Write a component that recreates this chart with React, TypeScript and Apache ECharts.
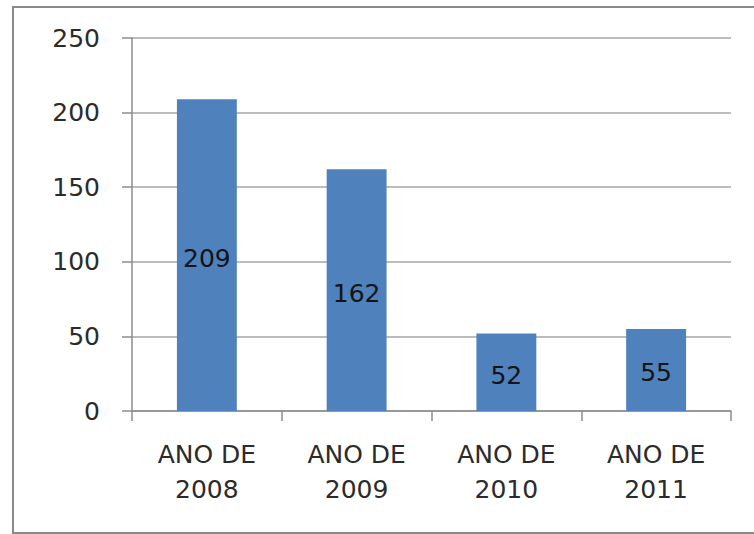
import React, { useEffect, useRef } from "react";
import * as echarts from "echarts";

const categories = ["ANO DE\n2008", "ANO DE\n2009", "ANO DE\n2010", "ANO DE\n2011"];
const values = [209, 162, 52, 55];
const yTicks = { min: 0, max: 250, interval: 50 };

export default function App() {
  const ref = useRef<HTMLDivElement>(null);
  useEffect(() => {
    if (!ref.current) return;
    const chart = echarts.init(ref.current, null, { renderer: "svg" });
    chart.setOption({
      animation: false,
      backgroundColor: "#ffffff",
      textStyle: { fontFamily: "DejaVu Sans" },
      graphic: [
        {
          type: "rect",
          shape: { x: 13, y: 7, width: 760, height: 526 },
          style: { fill: "none", stroke: "#8a8a8a", lineWidth: 2 },
          silent: true,
        },
      ],
      grid: { left: 132, right: 23, top: 38, bottom: 123, containLabel: false },
      xAxis: {
        type: "category",
        data: categories,
        boundaryGap: true,
        axisLine: { show: true, lineStyle: { color: "#8c8c8c", width: 1.5 } },
        axisTick: { show: true, length: 10, lineStyle: { color: "#8c8c8c", width: 1.5 } },
        axisLabel: {
          color: "#2b2b2b",
          fontSize: 25,
          lineHeight: 35,
          margin: 26,
          fontFamily: "DejaVu Sans",
          interval: 0,
        },
      },
      yAxis: {
        type: "value",
        min: yTicks.min,
        max: yTicks.max,
        interval: yTicks.interval,
        axisLine: { show: true, lineStyle: { color: "#8c8c8c", width: 1.5 } },
        axisTick: { show: true, length: 10, lineStyle: { color: "#8c8c8c", width: 1.5 } },
        splitLine: { show: true, lineStyle: { color: "#a6a6a6", width: 1.5 } },
        axisLabel: {
          color: "#2b2b2b",
          fontSize: 25,
          margin: 32,
          fontFamily: "DejaVu Sans",
        },
      },
      series: [
        {
          type: "bar",
          data: values,
          barWidth: "40%",
          itemStyle: { color: "#4f81bd" },
          label: {
            show: true,
            position: "inside",
            offset: [0, 3],
            color: "#141414",
            fontSize: 25,
            fontFamily: "DejaVu Sans",
          },
        },
      ],
    });
    return () => chart.dispose();
  }, []);
  return (
    <div
      ref={ref}
      style={{ position: "absolute", left: 0, top: 0, width: 754, height: 534 }}
    />
  );
}
